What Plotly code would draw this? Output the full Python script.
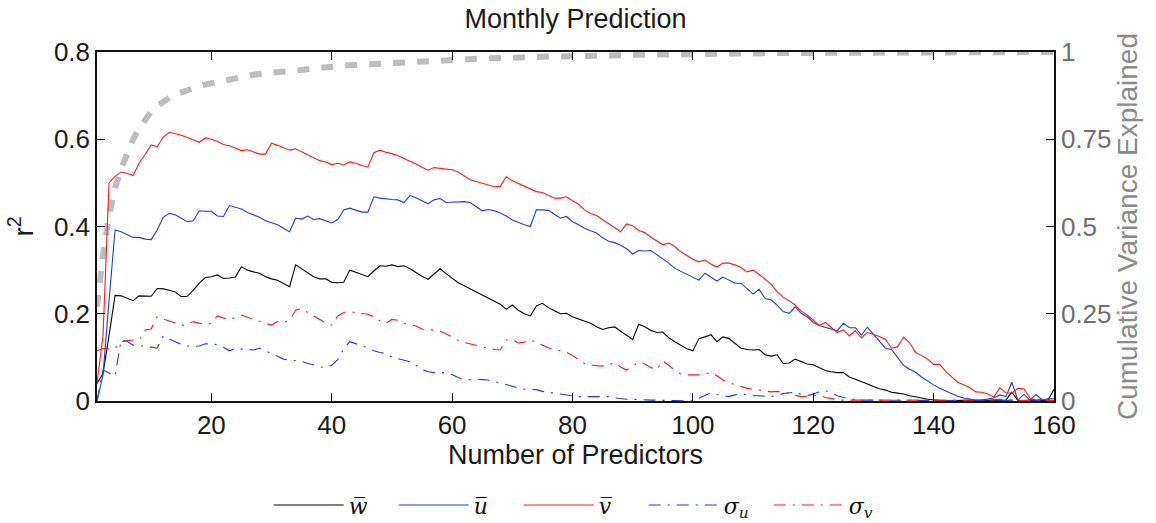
import plotly.graph_objects as go

# Number of predictors retained (x axis)
n_predictors = list(range(1, 161))

# r^2 of the monthly prediction for each target quantity
r2_w_mean = [
    0.040, 0.063, 0.150, 0.242, 0.241, 0.236, 0.230, 0.241, 0.240, 0.240,
    0.258, 0.257, 0.254, 0.250, 0.239, 0.240, 0.254, 0.270, 0.283, 0.285,
    0.289, 0.281, 0.282, 0.284, 0.308, 0.300, 0.296, 0.293, 0.285, 0.280,
    0.277, 0.270, 0.262, 0.312, 0.303, 0.293, 0.285, 0.280, 0.280, 0.272,
    0.271, 0.272, 0.300, 0.295, 0.290, 0.285, 0.298, 0.310, 0.309, 0.312,
    0.308, 0.310, 0.303, 0.294, 0.286, 0.279, 0.292, 0.303, 0.292, 0.282,
    0.271, 0.264, 0.257, 0.250, 0.244, 0.237, 0.230, 0.222, 0.210, 0.220,
    0.208, 0.200, 0.195, 0.218, 0.224, 0.214, 0.207, 0.200, 0.201, 0.193,
    0.188, 0.183, 0.178, 0.170, 0.164, 0.168, 0.170, 0.160, 0.150, 0.141,
    0.176, 0.170, 0.162, 0.157, 0.158, 0.145, 0.136, 0.127, 0.120, 0.115,
    0.143, 0.147, 0.152, 0.136, 0.147, 0.143, 0.132, 0.121, 0.118, 0.117,
    0.118, 0.106, 0.103, 0.106, 0.086, 0.087, 0.096, 0.090, 0.085, 0.083,
    0.077, 0.070, 0.067, 0.065, 0.065, 0.055, 0.050, 0.045, 0.039, 0.033,
    0.028, 0.025, 0.020, 0.018, 0.016, 0.012, 0.010, 0.007, 0.004, 0.002,
    0.001, 0.001, 0.001, 0.001, 0.001, 0.001, 0.001, 0.001, 0.001, 0.001,
    0.001, 0.002, 0.020, 0.001, 0.001, 0.002, 0.001, 0.001, 0.002, 0.027,
]

r2_u_mean = [
    0.000, 0.060, 0.230, 0.392, 0.388, 0.381, 0.375, 0.375, 0.371, 0.370,
    0.392, 0.421, 0.430, 0.427, 0.418, 0.411, 0.413, 0.436, 0.435, 0.435,
    0.424, 0.423, 0.448, 0.444, 0.440, 0.432, 0.426, 0.421, 0.413, 0.409,
    0.404, 0.396, 0.388, 0.419, 0.417, 0.424, 0.416, 0.418, 0.413, 0.408,
    0.416, 0.438, 0.442, 0.437, 0.433, 0.433, 0.468, 0.465, 0.463, 0.462,
    0.461, 0.455, 0.471, 0.466, 0.459, 0.452, 0.461, 0.464, 0.455, 0.456,
    0.457, 0.457, 0.455, 0.445, 0.436, 0.439, 0.436, 0.431, 0.424, 0.415,
    0.409, 0.404, 0.400, 0.438, 0.438, 0.437, 0.428, 0.419, 0.423, 0.411,
    0.404, 0.396, 0.390, 0.385, 0.374, 0.366, 0.363, 0.357, 0.349, 0.337,
    0.345, 0.344, 0.345, 0.335, 0.327, 0.316, 0.304, 0.297, 0.291, 0.284,
    0.277, 0.293, 0.283, 0.275, 0.284, 0.277, 0.270, 0.270, 0.258, 0.245,
    0.256, 0.235, 0.232, 0.220, 0.205, 0.201, 0.216, 0.201, 0.193, 0.180,
    0.173, 0.169, 0.166, 0.161, 0.178, 0.168, 0.168, 0.151, 0.169, 0.153,
    0.136, 0.121, 0.118, 0.099, 0.082, 0.073, 0.066, 0.055, 0.045, 0.037,
    0.029, 0.023, 0.016, 0.011, 0.007, 0.005, 0.002, 0.002, 0.004, 0.007,
    0.014, 0.010, 0.043, 0.002, 0.015, 0.002, 0.015, 0.003, 0.005, 0.005,
]

r2_v_mean = [
    0.040, 0.150, 0.500, 0.515, 0.525, 0.522, 0.517, 0.545, 0.565, 0.587,
    0.583, 0.605, 0.616, 0.613, 0.609, 0.604, 0.598, 0.593, 0.603, 0.600,
    0.595, 0.588, 0.585, 0.579, 0.574, 0.576, 0.571, 0.566, 0.566, 0.591,
    0.586, 0.580, 0.575, 0.578, 0.571, 0.564, 0.558, 0.551, 0.548, 0.542,
    0.545, 0.541, 0.548, 0.545, 0.540, 0.536, 0.569, 0.575, 0.570, 0.567,
    0.562, 0.556, 0.550, 0.543, 0.536, 0.529, 0.535, 0.533, 0.531, 0.530,
    0.525, 0.516, 0.507, 0.503, 0.499, 0.494, 0.491, 0.492, 0.514, 0.505,
    0.499, 0.492, 0.486, 0.480, 0.478, 0.471, 0.465, 0.465, 0.468, 0.459,
    0.451, 0.438, 0.430, 0.425, 0.416, 0.406, 0.397, 0.388, 0.406, 0.402,
    0.391, 0.386, 0.376, 0.366, 0.358, 0.362, 0.354, 0.342, 0.333, 0.325,
    0.319, 0.323, 0.314, 0.307, 0.316, 0.316, 0.312, 0.306, 0.296, 0.300,
    0.290, 0.279, 0.268, 0.250, 0.238, 0.230, 0.220, 0.206, 0.197, 0.185,
    0.173, 0.180, 0.169, 0.157, 0.163, 0.149, 0.161, 0.145, 0.157, 0.152,
    0.148, 0.141, 0.121, 0.124, 0.146, 0.134, 0.111, 0.104, 0.096, 0.084,
    0.084, 0.068, 0.055, 0.043, 0.037, 0.031, 0.021, 0.020, 0.016, 0.009,
    0.030, 0.019, 0.018, 0.029, 0.028, 0.007, 0.002, 0.004, 0.003, 0.001,
]

r2_sigma_u = [
    0.000, 0.071, 0.064, 0.057, 0.140, 0.137, 0.128, 0.126, 0.126, 0.124,
    0.121, 0.149, 0.142, 0.136, 0.130, 0.126, 0.125, 0.126, 0.131, 0.131,
    0.129, 0.123, 0.115, 0.121, 0.119, 0.118, 0.117, 0.121, 0.115, 0.109,
    0.102, 0.096, 0.093, 0.093, 0.091, 0.086, 0.083, 0.078, 0.077, 0.082,
    0.095, 0.120, 0.136, 0.131, 0.127, 0.122, 0.115, 0.111, 0.109, 0.101,
    0.097, 0.094, 0.090, 0.082, 0.072, 0.067, 0.065, 0.065, 0.065, 0.060,
    0.054, 0.048, 0.049, 0.050, 0.049, 0.048, 0.045, 0.041, 0.037, 0.033,
    0.030, 0.027, 0.026, 0.026, 0.022, 0.020, 0.019, 0.017, 0.014, 0.012,
    0.010, 0.010, 0.010, 0.011, 0.011, 0.010, 0.007, 0.005, 0.004, 0.004,
    0.003, 0.003, 0.002, 0.002, 0.001, 0.001, 0.001, 0.000, 0.000, 0.000,
    0.006, 0.012, 0.019, 0.015, 0.012, 0.010, 0.014, 0.017, 0.014, 0.012,
    0.012, 0.011, 0.010, 0.013, 0.017, 0.019, 0.020, 0.015, 0.012, 0.016,
    0.021, 0.024, 0.018, 0.012, 0.008, 0.005, 0.003, 0.002, 0.002, 0.001,
    0.001, 0.002, 0.001, 0.001, 0.002, 0.001, 0.001, 0.001, 0.002, 0.001,
    0.001, 0.001, 0.002, 0.001, 0.001, 0.001, 0.002, 0.001, 0.003, 0.002,
    0.001, 0.001, 0.002, 0.001, 0.001, 0.002, 0.001, 0.001, 0.001, 0.002,
]

r2_sigma_v = [
    0.115, 0.120, 0.120, 0.122, 0.136, 0.138, 0.140, 0.140, 0.163, 0.165,
    0.193, 0.188, 0.184, 0.179, 0.173, 0.176, 0.182, 0.178, 0.176, 0.178,
    0.195, 0.190, 0.186, 0.192, 0.197, 0.192, 0.187, 0.182, 0.178, 0.174,
    0.182, 0.180, 0.185, 0.208, 0.212, 0.203, 0.195, 0.187, 0.179, 0.174,
    0.195, 0.203, 0.205, 0.202, 0.201, 0.199, 0.193, 0.184, 0.178, 0.187,
    0.185, 0.178, 0.175, 0.172, 0.165, 0.163, 0.163, 0.160, 0.154, 0.147,
    0.139, 0.134, 0.131, 0.128, 0.125, 0.122, 0.118, 0.117, 0.140, 0.141,
    0.133, 0.135, 0.140, 0.134, 0.128, 0.122, 0.118, 0.115, 0.112, 0.104,
    0.094, 0.086, 0.082, 0.081, 0.080, 0.083, 0.088, 0.078, 0.071, 0.080,
    0.090, 0.085, 0.077, 0.072, 0.092, 0.082, 0.070, 0.062, 0.060, 0.060,
    0.060, 0.062, 0.065, 0.058, 0.048, 0.042, 0.038, 0.034, 0.029, 0.027,
    0.025, 0.023, 0.021, 0.022, 0.020, 0.017, 0.013, 0.010, 0.011, 0.013,
    0.014, 0.008, 0.005, 0.003, 0.002, 0.002, 0.001, 0.001, 0.002, 0.001,
    0.001, 0.001, 0.002, 0.001, 0.001, 0.001, 0.001, 0.002, 0.001, 0.001,
    0.001, 0.001, 0.001, 0.002, 0.001, 0.001, 0.002, 0.003, 0.002, 0.003,
    0.004, 0.003, 0.002, 0.001, 0.001, 0.001, 0.001, 0.001, 0.001, 0.001,
]

# Cumulative fraction of variance explained by the first n predictors
cum_variance = [
    0.270, 0.420, 0.530, 0.610, 0.665, 0.710, 0.750, 0.780, 0.805, 0.830,
    0.845, 0.858, 0.869, 0.878, 0.885, 0.891, 0.897, 0.902, 0.907, 0.911,
    0.915, 0.919, 0.923, 0.926, 0.929, 0.932, 0.935, 0.937, 0.939, 0.941,
    0.943, 0.945, 0.947, 0.949, 0.951, 0.953, 0.954, 0.956, 0.957, 0.959,
    0.960, 0.961, 0.962, 0.963, 0.965, 0.966, 0.967, 0.968, 0.969, 0.970,
    0.971, 0.972, 0.972, 0.973, 0.974, 0.975, 0.976, 0.977, 0.977, 0.978,
    0.979, 0.979, 0.980, 0.981, 0.981, 0.982, 0.982, 0.983, 0.983, 0.984,
    0.984, 0.985, 0.985, 0.986, 0.986, 0.987, 0.987, 0.987, 0.988, 0.988,
    0.989, 0.989, 0.989, 0.990, 0.990, 0.990, 0.991, 0.991, 0.991, 0.992,
    0.992, 0.992, 0.992, 0.993, 0.993, 0.993, 0.993, 0.994, 0.994, 0.994,
    0.994, 0.995, 0.995, 0.995, 0.995, 0.995, 0.996, 0.996, 0.996, 0.996,
    0.996, 0.997, 0.997, 0.997, 0.997, 0.997, 0.997, 0.998, 0.998, 0.998,
    0.998, 0.998, 0.998, 0.998, 0.998, 0.999, 0.999, 0.999, 0.999, 0.999,
    0.999, 0.999, 0.999, 0.999, 0.999, 0.999, 1.000, 1.000, 1.000, 1.000,
    1.000, 1.000, 1.000, 1.000, 1.000, 1.000, 1.000, 1.000, 1.000, 1.000,
    1.000, 1.000, 1.000, 1.000, 1.000, 1.000, 1.000, 1.000, 1.000, 1.000,
]

x_ticks = [20, 40, 60, 80, 100, 120, 140, 160]
r2_ticks = [0, 0.2, 0.4, 0.6, 0.8]
var_ticks = [0, 0.25, 0.5, 0.75, 1]

SANS = "Liberation Sans, Arial, Helvetica, sans-serif"
BLUE = "#1f3fd0"
RED = "#ff1a1a"
GRAY = "#bdbdc1"
DASHDOT = "12px,7px,2px,7px"
OVER = "\u0305"

fig = go.Figure()

# Cumulative variance drawn first so that it sits under the r^2 curves
fig.add_trace(go.Scatter(
    x=n_predictors, y=cum_variance, yaxis="y", mode="lines",
    line=dict(color=GRAY, width=6, dash="12px,12px"),
    showlegend=False, hoverinfo="skip",
))

series = [
    (r2_w_mean, "<i>w" + OVER + "</i>", "#000000", "solid"),
    (r2_u_mean, "<i>u" + OVER + "</i>", BLUE, "solid"),
    (r2_v_mean, "<i>v" + OVER + "</i>", RED, "solid"),
    (r2_sigma_u, "<i>σ</i><sub><i>u</i></sub>", BLUE, DASHDOT),
    (r2_sigma_v, "<i>σ</i><sub><i>v</i></sub>", RED, DASHDOT),
]
for values, label, color, dash in series:
    fig.add_trace(go.Scatter(
        x=n_predictors, y=values, yaxis="y2", mode="lines", name=label,
        line=dict(color=color, width=1.1, dash=dash),
    ))

fig.update_layout(
    width=1156, height=523,
    margin=dict(l=97, r=102, t=52, b=122),
    paper_bgcolor="white", plot_bgcolor="white",
    font=dict(family=SANS, size=26, color="#1a1a1a"),
    title=dict(text="Monthly Prediction", x=0.4978, xanchor="center",
               y=0.965, yanchor="middle", yref="container",
               font=dict(family=SANS, size=27, color="#1a1a1a")),
    xaxis=dict(
        range=[1, 160], tickvals=x_ticks, ticks="inside", ticklen=8,
        tickwidth=1, tickcolor="#111", showline=True, linecolor="#111",
        linewidth=1.5, mirror="ticks", showgrid=False, zeroline=False,
        tickfont=dict(size=26, color="#1a1a1a"), automargin=False,
        title=dict(text="Number of Predictors", standoff=0,
                   font=dict(size=27, color="#1a1a1a")),
        anchor="y",
    ),
    yaxis=dict(
        range=[0, 1], tickvals=var_ticks, side="right", ticks="inside",
        ticklen=8, tickwidth=1, tickcolor="#111", showline=True,
        linecolor="#111", linewidth=1.5, showgrid=False, zeroline=False,
        tickfont=dict(size=26, color="#6e6e6e"), automargin=False,
        title=dict(text="Cumulative Variance Explained", standoff=6,
                   font=dict(size=28, color="#8a8a8a")),
    ),
    yaxis2=dict(
        range=[0, 0.8], tickvals=r2_ticks, side="left", overlaying="y",
        ticks="inside", ticklen=8, tickwidth=1, tickcolor="#111",
        showline=True, linecolor="#111", linewidth=1.5, showgrid=False,
        zeroline=False, tickfont=dict(size=26, color="#1a1a1a"),
        automargin=False,
        title=dict(text="r<sup>2</sup>", standoff=12,
                   font=dict(size=28, color="#1a1a1a")),
    ),
    legend=dict(
        orientation="h", x=0.506, xanchor="center",
        yref="container", y=0.034, yanchor="middle",
        itemwidth=70, entrywidth=40,
        font=dict(family="DejaVu Serif, serif", size=22, color="#111"),
        bgcolor="rgba(0,0,0,0)",
    ),
)

fig.write_html("out.html")
